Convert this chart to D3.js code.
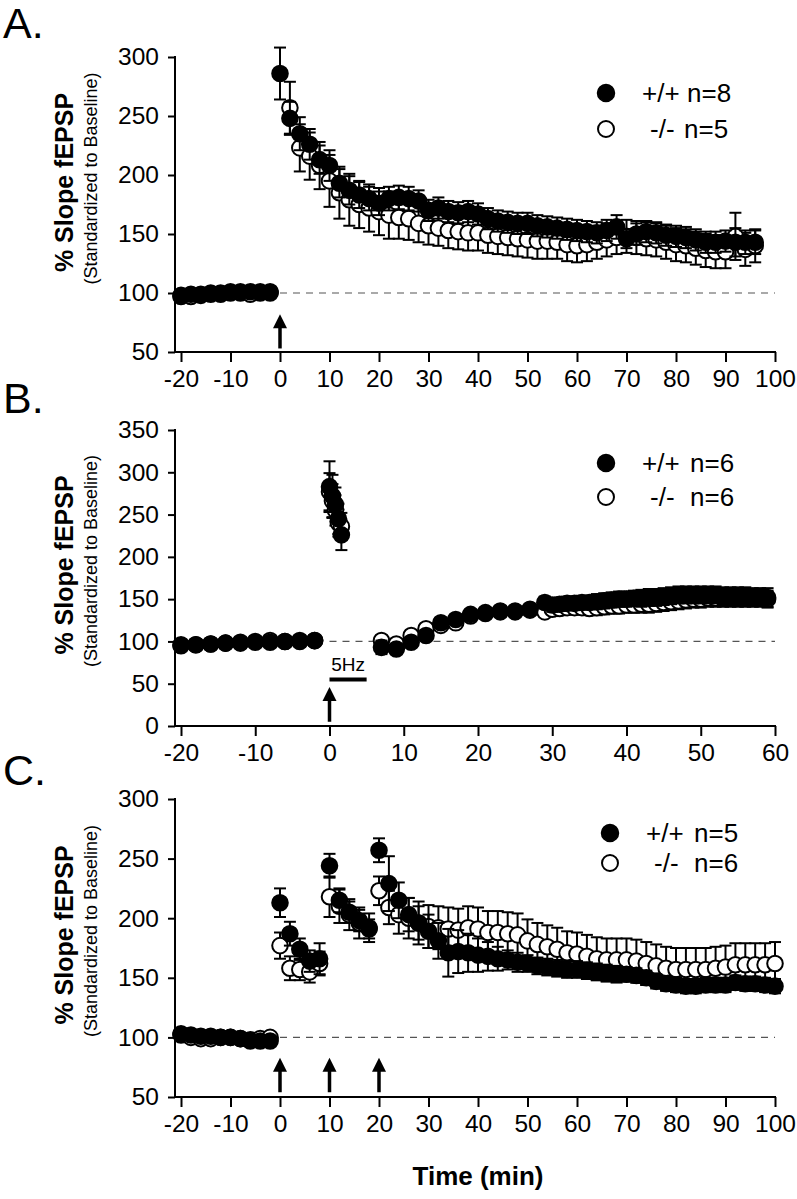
<!DOCTYPE html>
<html><head><meta charset="utf-8">
<script src="https://cdn.jsdelivr.net/npm/d3@7"></script>
<style>body{margin:0;background:#fff} svg{display:block} text{font-family:"Liberation Sans",Arial,sans-serif;fill:#000}</style>
</head><body><svg id="c" width="797" height="1199"></svg>
<script>
// ---------- Panel A ----------
const aWTtime = [-20,-18,-16,-14,-12,-10,-8,-6,-4,-2,0,2,4,6,8,10,12,14,16,18,20,22,24,26,28,30,32,34,36,38,40,42,44,46,48,50,52,54,56,58,60,62,64,66,68,70,72,74,76,78,80,82,84,86,88,90,92,94,96];
const aWT = [98,99,99,100,100,101,101,101,101,100,286,248,235,226,213,208,193,187,183,180,176,180,181,180,178,170,172,169,168,169,167,163,161,160,159,159,157,156,155,154,153,152,151,153,156,146,150,152,151,149,148,147,145,143,143,144,143,143,143];
const aWTerr = [3,3,3,3,3,3,3,3,3,3,22,14,14,13,12,13,12,12,11,10,10,10,10,10,9,9,9,9,9,9,9,9,9,9,9,9,9,9,9,9,9,9,9,9,10,8,9,9,9,9,9,9,9,9,9,9,12,10,10];
const aKOtime = [-20,-18,-16,-14,-12,-10,-8,-6,-4,-2,2,4,6,8,10,12,14,16,18,20,22,24,26,28,30,32,34,36,38,40,42,44,46,48,50,52,54,56,58,60,62,64,66,68,70,72,74,76,78,80,82,84,86,88,90,92,94,96];
const aKO = [97,97,98,99,99,100,100,99,100,101,257,223,216,208,195,185,179,175,172,169,166,164,163,159,157,155,153,152,151,151,149,148,147,146,145,144,144,143,141,140,141,143,145,147,148,147,146,145,143,141,140,138,136,135,135,148,137,140];
const aKOerr = [3,3,3,3,3,3,3,3,3,3,22,20,20,20,22,22,22,20,20,20,20,18,18,16,16,15,15,15,15,15,15,15,15,15,15,15,15,14,14,14,14,14,14,14,14,14,14,14,14,14,14,14,14,14,14,20,14,14];
const aXTicks = [-20,-10,0,10,20,30,40,50,60,70,80,90,100];
const aYTicks = [50,100,150,200,250,300];
const aLegend = ["+/+", "n=8", "-/-", "n=5"];
const aArrows = [0];

// ---------- Panel B ----------
const bWTtime = [-20,-18,-16,-14,-12,-10,-8,-6,-4,-2,0,0.4,0.8,1.2,1.6,7,9,11,13,15,17,19,21,23,25,27,29,30,31,32,33,34,35,36,37,38,39,40,41,42,43,44,45,46,47,48,49,50,51,52,53,54,55,56,57,58,59];
const bWT = [95,96,97,98,98,99,99,100,101,101,283,272,262,245,226,93,91,99,107,122,126,132,134,136,136,138,146,143,144,145,145,146,146,147,148,149,150,150,151,151,152,152,153,154,155,155,155,155,155,155,154,154,154,154,153,153,152];
const bWTerr = [3,3,3,3,3,3,3,3,3,3,30,25,20,18,18,8,5,5,5,5,5,5,5,5,5,5,7,8,8,8,8,8,8,9,9,9,9,9,9,10,10,10,10,10,10,10,10,10,10,10,10,10,10,10,10,10,11];
const bKOtime = bWTtime;
const bKO = [96,96,97,98,99,100,101,100,100,101,277,266,255,240,236,101,97,107,115,119,122,130,133,135,135,137,135,138,139,140,140,140,139,140,141,142,142,143,143,144,144,145,146,147,148,149,150,150,151,151,151,151,151,151,151,151,150];
const bKOerr = [3,3,3,3,3,3,3,3,3,3,22,20,18,16,16,5,5,5,5,5,5,5,5,5,5,5,6,8,8,8,8,8,8,9,9,9,9,9,9,10,10,10,10,10,10,10,10,10,10,10,10,10,10,10,10,10,10];
const bXTicks = [-20,-10,0,10,20,30,40,50,60];
const bYTicks = [0,50,100,150,200,250,300,350];
const bLegend = ["+/+", "n=6", "-/-", "n=6"];
const bArrows = [0];
const bStim = ["5Hz", 0, 5];

// ---------- Panel C ----------
const cTime = [-20,-18,-16,-14,-12,-10,-8,-6,-4,-2,0,2,4,6,8,10,12,14,16,18,20,22,24,26,28,30,32,34,36,38,40,42,44,46,48,50,52,54,56,58,60,62,64,66,68,70,72,74,76,78,80,82,84,86,88,90,92,94,96,98,100];
const cWT = [103,102,101,101,100,100,99,97,97,97,213,187,174,164,166,244,215,205,198,191,257,229,215,203,196,189,181,171,172,171,169,168,166,165,163,162,160,159,158,157,157,156,155,154,153,153,152,150,147,145,144,143,143,144,144,144,146,145,145,144,143];
const cWTerr = [3,3,3,3,3,3,3,3,3,3,12,10,9,9,13,10,10,9,9,8,10,23,15,14,14,14,15,20,18,16,14,12,10,8,8,7,7,7,7,7,7,7,7,7,7,6,6,6,6,6,6,6,6,6,6,6,6,6,6,6,6];
const cKO = [102,100,99,99,100,100,99,98,99,100,177,158,157,155,162,218,210,203,196,192,223,209,203,200,196,193,192,191,190,192,191,188,188,187,186,181,178,176,174,171,170,168,166,165,165,165,164,162,160,158,157,157,157,157,158,159,161,161,161,161,162];
const cKOerr = [3,3,3,3,3,3,3,3,3,3,11,10,9,9,10,17,14,13,13,12,12,14,16,17,18,18,18,18,18,18,18,18,18,18,18,18,18,18,18,18,18,18,18,18,18,18,18,18,18,18,18,18,18,18,18,18,18,18,18,18,18];
const cXTicks = [-20,-10,0,10,20,30,40,50,60,70,80,90,100];
const cYTicks = [50,100,150,200,250,300];
const cLegend = ["+/+", "n=5", "-/-", "n=6"];
const cArrows = [0,10,20];

const xLabel = "Time (min)";
const yTitle = "% Slope fEPSP";
const ySub = "(Standardized to Baseline)";

const svg = d3.select("#c");
const FONT = "Liberation Sans, Arial, sans-serif";

function zip(t, v, e){ return t.map((d,i)=>({t:d, v:v[i], e:e[i]})); }

function panel(cfg){
  const x = d3.scaleLinear().domain(cfg.xDom).range([181, 775]);
  const y = d3.scaleLinear().domain(cfg.yDom).range(cfg.yRange);
  const g = svg.append("g");
  const axX = x(cfg.xDom[0]) - 6;
  const y0 = y(cfg.yDom[0]);

  // panel letter
  g.append("text").attr("x", 3).attr("y", cfg.letterY).attr("font-size", 43).text(cfg.letter);

  // y axis
  const ya = d3.axisLeft(y).tickValues(cfg.yTicks).tickFormat(d => String(d)).tickSize(7).tickPadding(9).tickSizeOuter(0);
  const yg = g.append("g").attr("transform", `translate(${axX},0)`).call(ya);
  yg.select(".domain").remove();
  yg.selectAll(".tick line").attr("stroke", "#000").attr("stroke-width", 2);
  yg.selectAll(".tick text").attr("font-size", 24.5).attr("font-family", FONT).attr("fill", "#000");
  g.append("line").attr("x1", axX).attr("x2", axX).attr("y1", y0 + 1).attr("y2", y(cfg.yDom[1]) - 1).attr("stroke", "#000").attr("stroke-width", 2);

  // x axis
  const xa = d3.axisBottom(x).tickValues(cfg.xTicks).tickFormat(d => String(d)).tickSize(10).tickPadding(8).tickSizeOuter(0);
  const xg = g.append("g").attr("transform", `translate(0,${y0})`).call(xa);
  xg.select(".domain").remove();
  xg.selectAll(".tick line").attr("stroke", "#000").attr("stroke-width", 2);
  xg.selectAll(".tick text").attr("font-size", 24.5).attr("font-family", FONT).attr("fill", "#000");
  g.append("line").attr("x1", axX - 1).attr("x2", x(cfg.xDom[1]) + 1).attr("y1", y0).attr("y2", y0).attr("stroke", "#000").attr("stroke-width", 2);

  // titles
  const tc = (y0 + y(cfg.yDom[1])) / 2 + cfg.titleShift;
  g.append("text").attr("transform", `translate(73,${tc}) rotate(-90)`).attr("text-anchor", "middle")
    .attr("font-size", 25).attr("font-weight", "bold").text(yTitle);
  g.append("text").attr("transform", `translate(97,${tc - 4}) rotate(-90)`).attr("text-anchor", "middle")
    .attr("font-size", 18).text(ySub);

  // dashed baseline
  g.append("line").attr("x1", x(0)).attr("x2", x(cfg.xDom[1])).attr("y1", y(100)).attr("y2", y(100))
    .attr("stroke", "#555").attr("stroke-width", 1.2).attr("stroke-dasharray", "7,6");

  // arrows
  cfg.arrows.forEach(t => {
    const xx = x(t), yb = y(cfg.arrowV[0]), yt = y(cfg.arrowV[1]);
    g.append("line").attr("x1", xx).attr("x2", xx).attr("y1", yb).attr("y2", yt + 10).attr("stroke", "#000").attr("stroke-width", 3.5);
    g.append("path").attr("d", `M${xx-7},${yt+14} L${xx},${yt} L${xx+7},${yt+14} Z`).attr("fill", "#000");
  });

  // stim bar
  if (cfg.stim){
    const yy = y(cfg.stimV);
    g.append("line").attr("x1", x(cfg.stim[1])).attr("x2", x(cfg.stim[2])).attr("y1", yy).attr("y2", yy).attr("stroke", "#000").attr("stroke-width", 4);
    g.append("text").attr("x", (x(cfg.stim[1]) + x(cfg.stim[2])) / 2).attr("y", yy - 8).attr("text-anchor", "middle").attr("font-size", 19).text(cfg.stim[0]);
  }

  // series (open first, filled on top)
  const drawSeries = (data, filled) => {
    const s = g.append("g");
    data.forEach(d => {
      const xx = x(d.t);
      s.append("line").attr("x1", xx).attr("x2", xx).attr("y1", y(d.v - d.e)).attr("y2", y(d.v + d.e)).attr("stroke", "#000").attr("stroke-width", 2);
      [d.v - d.e, d.v + d.e].forEach(vv => s.append("line").attr("x1", xx - 6).attr("x2", xx + 6).attr("y1", y(vv)).attr("y2", y(vv)).attr("stroke", "#000").attr("stroke-width", 2));
    });
    s.selectAll("circle").data(data).enter().append("circle")
      .attr("cx", d => x(d.t)).attr("cy", d => y(d.v)).attr("r", 7.8)
      .attr("fill", filled ? "#000" : "#fff").attr("stroke", "#000").attr("stroke-width", 2);
  };
  drawSeries(cfg.ko, false);
  drawSeries(cfg.wt, true);

  // legend
  const L = cfg.legend, lg = cfg.leg;
  g.append("circle").attr("cx", lg.cx).attr("cy", lg.y1).attr("r", 8.5).attr("fill", "#000").attr("stroke", "#000").attr("stroke-width", 1.5);
  g.append("circle").attr("cx", lg.cx).attr("cy", lg.y2).attr("r", 8).attr("fill", "#fff").attr("stroke", "#000").attr("stroke-width", 2);
  g.append("text").attr("x", lg.t1).attr("y", lg.y1 + 9).attr("font-size", 26).text(L[0]);
  g.append("text").attr("x", lg.n1).attr("y", lg.y1 + 9).attr("font-size", 26).text(L[1]);
  g.append("text").attr("x", lg.t2).attr("y", lg.y2 + 9).attr("font-size", 26).text(L[2]);
  g.append("text").attr("x", lg.n2).attr("y", lg.y2 + 9).attr("font-size", 26).text(L[3]);
  return {x, y};
}

panel({letter:"A.", letterY:38, xDom:[-20,100], yDom:[50,300], yRange:[352,57], xTicks:aXTicks, yTicks:aYTicks, titleShift:-22,
  wt: zip(aWTtime, aWT, aWTerr), ko: zip(aKOtime, aKO, aKOerr), arrows:aArrows, arrowV:[53,82],
  legend:aLegend, leg:{cx:606, y1:93, y2:129, t1:642, n1:687, t2:650, n2:684}});

panel({letter:"B.", letterY:413, xDom:[-20,60], yDom:[0,350], yRange:[726,430], xTicks:bXTicks, yTicks:bYTicks, titleShift:-13,
  wt: zip(bWTtime, bWT, bWTerr), ko: zip(bKOtime, bKO, bKOerr), arrows:bArrows, arrowV:[5,46],
  stim:bStim, stimV:55,
  legend:bLegend, leg:{cx:606, y1:463, y2:497, t1:642, n1:690, t2:650, n2:690}});

const pc = panel({letter:"C.", letterY:785, xDom:[-20,100], yDom:[50,300], yRange:[1097,799], xTicks:cXTicks, yTicks:cYTicks, titleShift:-13,
  wt: zip(cTime, cWT, cWTerr), ko: zip(cTime, cKO, cKOerr), arrows:cArrows, arrowV:[54,83],
  legend:cLegend, leg:{cx:610, y1:833, y2:863, t1:646, n1:694, t2:654, n2:694}});

svg.append("text").attr("x", (pc.x(-20) + pc.x(100)) / 2).attr("y", 1185).attr("text-anchor", "middle")
  .attr("font-size", 26).attr("font-weight", "bold").text(xLabel);
</script>
</body></html>
